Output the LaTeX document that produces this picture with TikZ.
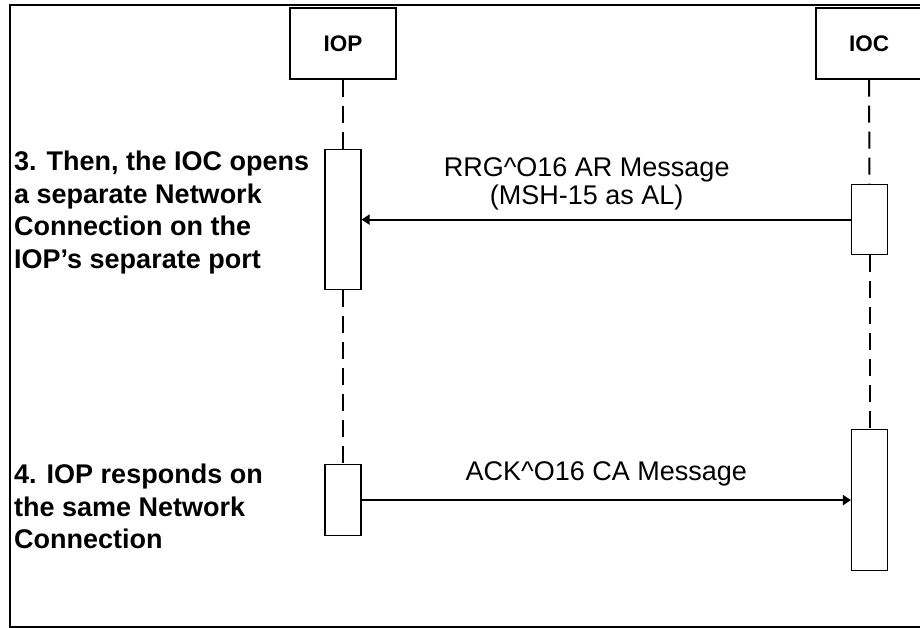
\documentclass[tikz,border=0pt]{standalone}
\usepackage{fontspec}
\setmainfont{Liberation Sans}
\usetikzlibrary{arrows.meta}

\begin{document}
\begin{tikzpicture}[x=1pt,y=-1pt,>={Triangle[length=8pt,width=10pt]},
  actor node/.style={rectangle,draw,line width=1.2pt,minimum width=106pt,
    minimum height=71pt,inner sep=0pt,font=\fontsize{22.5}{26}\selectfont\bfseries},
  bar node/.style={rectangle,draw,line width=1.2pt,minimum width=36pt,inner sep=0pt},
  life/.style={line width=2pt,dash pattern=on 17pt off 9pt},
  note node/.style={align=left,anchor=north west,inner sep=0pt,
    font=\fontsize{27}{32.6}\selectfont\bfseries}]

  \useasboundingbox (0,0) rectangle (920,628);
  \clip (0,0) rectangle (920,628);
  \draw[line width=2.5pt] (10,5) rectangle (940,627);

  \node[actor node] (IOP) at (343,43.5) {IOP};
  \node[actor node] (IOC) at (869,43.5) {IOC};
  \node[bar node,minimum height=140pt,anchor=north] (P1) at (343,149) {};
  \node[bar node,minimum height=71pt,anchor=north] (P2) at (343,464) {};
  \node[bar node,minimum height=70pt,anchor=north] (C1) at (869.5,184) {};
  \node[bar node,minimum height=141pt,anchor=north] (C2) at (869.5,429) {};

  \node[note node] (N3) at (14,151) {3. Then, the IOC opens\\a separate Network\\Connection on the\\IOP’s separate port};
  \node[note node] (N4) at (14,464) {4. IOP responds on\\the same Network\\Connection};

  \path[life]
    (IOP) edge (P1)
    (P1) edge (P2)
    (IOC) edge (C1)
    (C1) edge (C2);

  \path[->,line width=2pt,every node/.style={inner sep=0pt,align=center,
      font=\fontsize{27}{28}\selectfont}]
    (C1) edge node [pos=0.54,above=9pt] {RRG\textasciicircum O16 AR Message\\(MSH-15 as AL)} (P1)
    (P2) edge node [pos=0.5,above=13pt] {ACK\textasciicircum O16 CA Message} (C2);
\end{tikzpicture}
\end{document}
